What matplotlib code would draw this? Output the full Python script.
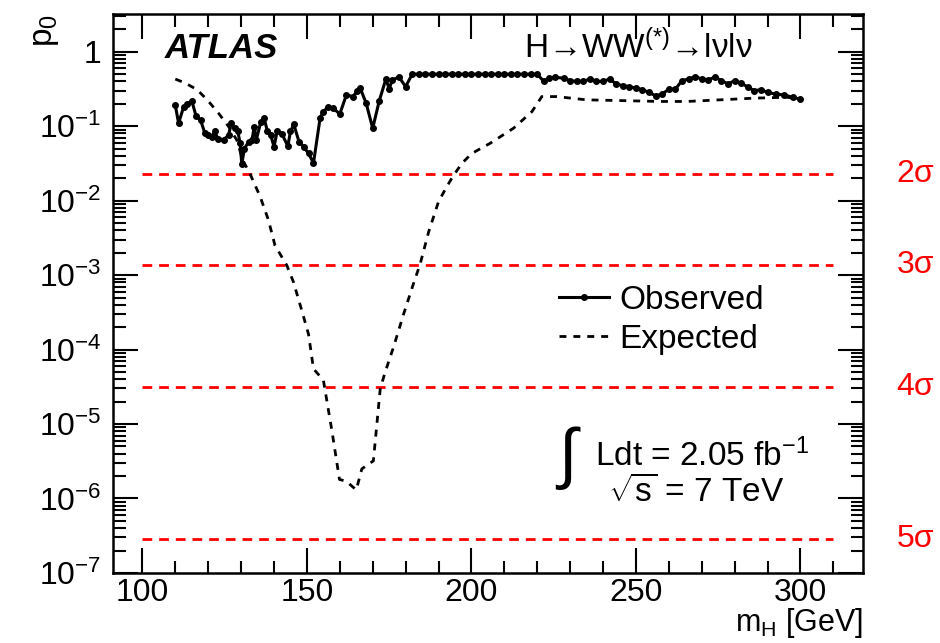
import numpy as np
import matplotlib
matplotlib.use("Agg")
import matplotlib.pyplot as plt
from matplotlib.ticker import MultipleLocator, LogLocator, NullFormatter

plt.rcParams['font.family'] = ['Liberation Sans', 'DejaVu Sans']
plt.rcParams['mathtext.fontset'] = 'custom'
plt.rcParams['mathtext.rm'] = 'Liberation Sans'
plt.rcParams['mathtext.it'] = 'Liberation Sans:italic'

# observed p0 vs mH
obs_m = [110, 111, 112.5, 113.7, 115, 116.3, 117.7, 119, 120, 121, 122, 123, 124.7, 126.2,
         127, 128, 129, 129.7, 130.2, 131, 132.3, 133.3, 134, 134.6, 136, 137, 138, 139,
         140, 141, 142.4, 144.2, 145, 146, 147.6, 149, 150.5, 152, 154, 155, 156.3, 158,
         160, 162, 164, 165.2, 166.2, 168, 170, 172, 174, 175, 176, 178, 180, 182,
         184, 186, 188, 190, 192, 194, 196, 198, 200, 202, 204, 206, 208, 210, 212, 214,
         216, 218, 220, 222, 223.5, 225.5, 228, 230, 232, 234, 236, 238, 240, 242, 244,
         246, 248, 250, 252, 254, 256, 258, 260, 262, 264, 266, 268, 270, 272, 274, 276,
         278, 280, 282, 284, 286, 288, 290, 292.5, 295, 297.7, 300]
obs_p = [0.19, 0.11, 0.18, 0.20, 0.22, 0.137, 0.12, 0.08, 0.076, 0.071, 0.085, 0.067, 0.066, 0.076,
         0.11, 0.094, 0.085, 0.059, 0.031, 0.05, 0.062, 0.065, 0.099, 0.065, 0.115, 0.128, 0.085, 0.076,
         0.053, 0.087, 0.079, 0.054, 0.085, 0.106, 0.062, 0.053, 0.043, 0.032, 0.128, 0.157, 0.18, 0.174,
         0.146, 0.263, 0.25, 0.293, 0.325, 0.204, 0.094, 0.22, 0.43, 0.32, 0.42, 0.456, 0.34, 0.5,
         0.5, 0.5, 0.5, 0.5, 0.5, 0.5, 0.5, 0.5, 0.5, 0.5, 0.5, 0.5, 0.5, 0.5, 0.5, 0.5,
         0.5, 0.5, 0.5, 0.40, 0.44, 0.456, 0.44, 0.41, 0.40, 0.40, 0.43, 0.40, 0.40, 0.43, 0.37,
         0.35, 0.34, 0.325, 0.31, 0.284, 0.256, 0.27, 0.315, 0.315, 0.41, 0.43, 0.465, 0.43, 0.42, 0.456, 0.41,
         0.37, 0.41, 0.38, 0.335, 0.30, 0.31, 0.284, 0.27, 0.263, 0.245, 0.23]

# expected p0 vs mH
exp_m = [110, 113, 116.6, 119.7, 123.1, 126.2, 128.7, 130.5, 132.7, 135.8, 138.3, 140.3, 143.9,
         145.9, 148.4, 150.5, 152, 155, 157.6, 159.9, 162, 165, 166.7, 170.2, 172.3, 173.8,
         176.3, 179.4, 182.4, 184.4, 187, 190, 192.5, 194.6, 197.2, 200.1, 205.7, 212.8,
         218.4, 221.4, 225.9, 235, 247.2, 257.3, 265.5, 275.6, 285.8, 295.9, 300]
exp_p = [0.43, 0.38, 0.31, 0.226, 0.15, 0.099, 0.065, 0.035, 0.023, 0.0113, 0.0055, 0.0025, 0.00135,
         8.1e-4, 3.4e-4, 1.6e-4, 5.5e-5, 3.9e-5, 8.1e-6, 1.8e-6, 1.7e-6, 1.3e-6, 2.5e-6, 3.2e-6, 3.0e-5, 5e-5,
         1.07e-4, 3.0e-4, 7.7e-4, 1.4e-3, 3.8e-3, 9.7e-3, 0.0154, 0.022, 0.032, 0.043, 0.059, 0.094,
         0.157, 0.25, 0.25, 0.226, 0.22, 0.215, 0.215, 0.226, 0.238, 0.245, 0.23]

sig_labels = ["2σ", "3σ", "4σ", "5σ"]
sig_p = [0.0228, 1.35e-3, 3.17e-5, 2.87e-7]

fig = plt.figure(figsize=(9.4, 6.43), dpi=100)
ax = fig.add_axes([0.120, 0.109, 0.798, 0.869])

for p in sig_p:
    ax.plot([100, 310], [p, p], color='red', lw=2, ls=(0, (3.5, 2.5)))

ax.plot(exp_m, exp_p, color='black', lw=2, ls=(0, (2.5, 2.5)), label='Expected')
ax.plot(obs_m, obs_p, color='black', lw=2.2, marker='o', ms=4, label='Observed')

ax.set_yscale('log')
ax.set_xlim(91, 319)
ax.set_ylim(1e-7, 3.2)

ax.xaxis.set_major_locator(MultipleLocator(50))
ax.xaxis.set_minor_locator(MultipleLocator(10))
ax.yaxis.set_minor_locator(LogLocator(base=10, subs=np.arange(2, 10), numticks=20))
ax.yaxis.set_minor_formatter(NullFormatter())
ax.set_yticks([10.0 ** k for k in range(-7, 1)])
ax.set_yticklabels(['10$^{%d}$' % k if k != 0 else '1' for k in range(-7, 1)])

ax.tick_params(which='both', direction='in', top=True, right=True, labelsize=23, width=1.5)
ax.tick_params(axis='x', pad=4)
ax.tick_params(axis='y', pad=8)
ax.tick_params(which='major', length=18)
ax.tick_params(which='minor', length=9)
for s in ax.spines.values():
    s.set_linewidth(1.8)

ax.text(-0.11, 1.0, 'p$_0$', transform=ax.transAxes, rotation=90, ha='left', va='top', fontsize=24)
ax.text(1.0, -0.12, 'm$_\\mathrm{H}$ [GeV]', transform=ax.transAxes, ha='right', va='bottom', fontsize=22)

ax.text(0.069, 0.939, 'ATLAS', transform=ax.transAxes, fontsize=25, fontweight='bold', style='italic', va='center')
ax.text(0.548, 0.941, 'H→WW$^{(*)}$→lνlν', transform=ax.transAxes, fontsize=24, va='center')

for lab, p in zip(sig_labels, sig_p):
    ax.text(1.045, p, lab, transform=ax.get_yaxis_transform(), color='red', fontsize=23, va='center')

h, l = ax.get_legend_handles_labels()
ax.legend([h[-1], h[-2]], ['Observed', 'Expected'], loc='center left', bbox_to_anchor=(0.595, 0.453),
          frameon=False, fontsize=24, handlelength=1.5, handletextpad=0.3, labelspacing=0.25,
          borderpad=0, borderaxespad=0)

ax.text(0.607, 0.205, '$\\int$', transform=ax.transAxes, fontsize=48, va='center', ha='center')
ax.text(0.643, 0.21, 'Ldt = 2.05 fb$^{-1}$', transform=ax.transAxes, fontsize=24, va='center')
ax.text(0.66, 0.145, '$\\sqrt{\\mathrm{s}}$ = 7 TeV', transform=ax.transAxes, fontsize=24, va='center')

fig.savefig('out.png', dpi=100)
